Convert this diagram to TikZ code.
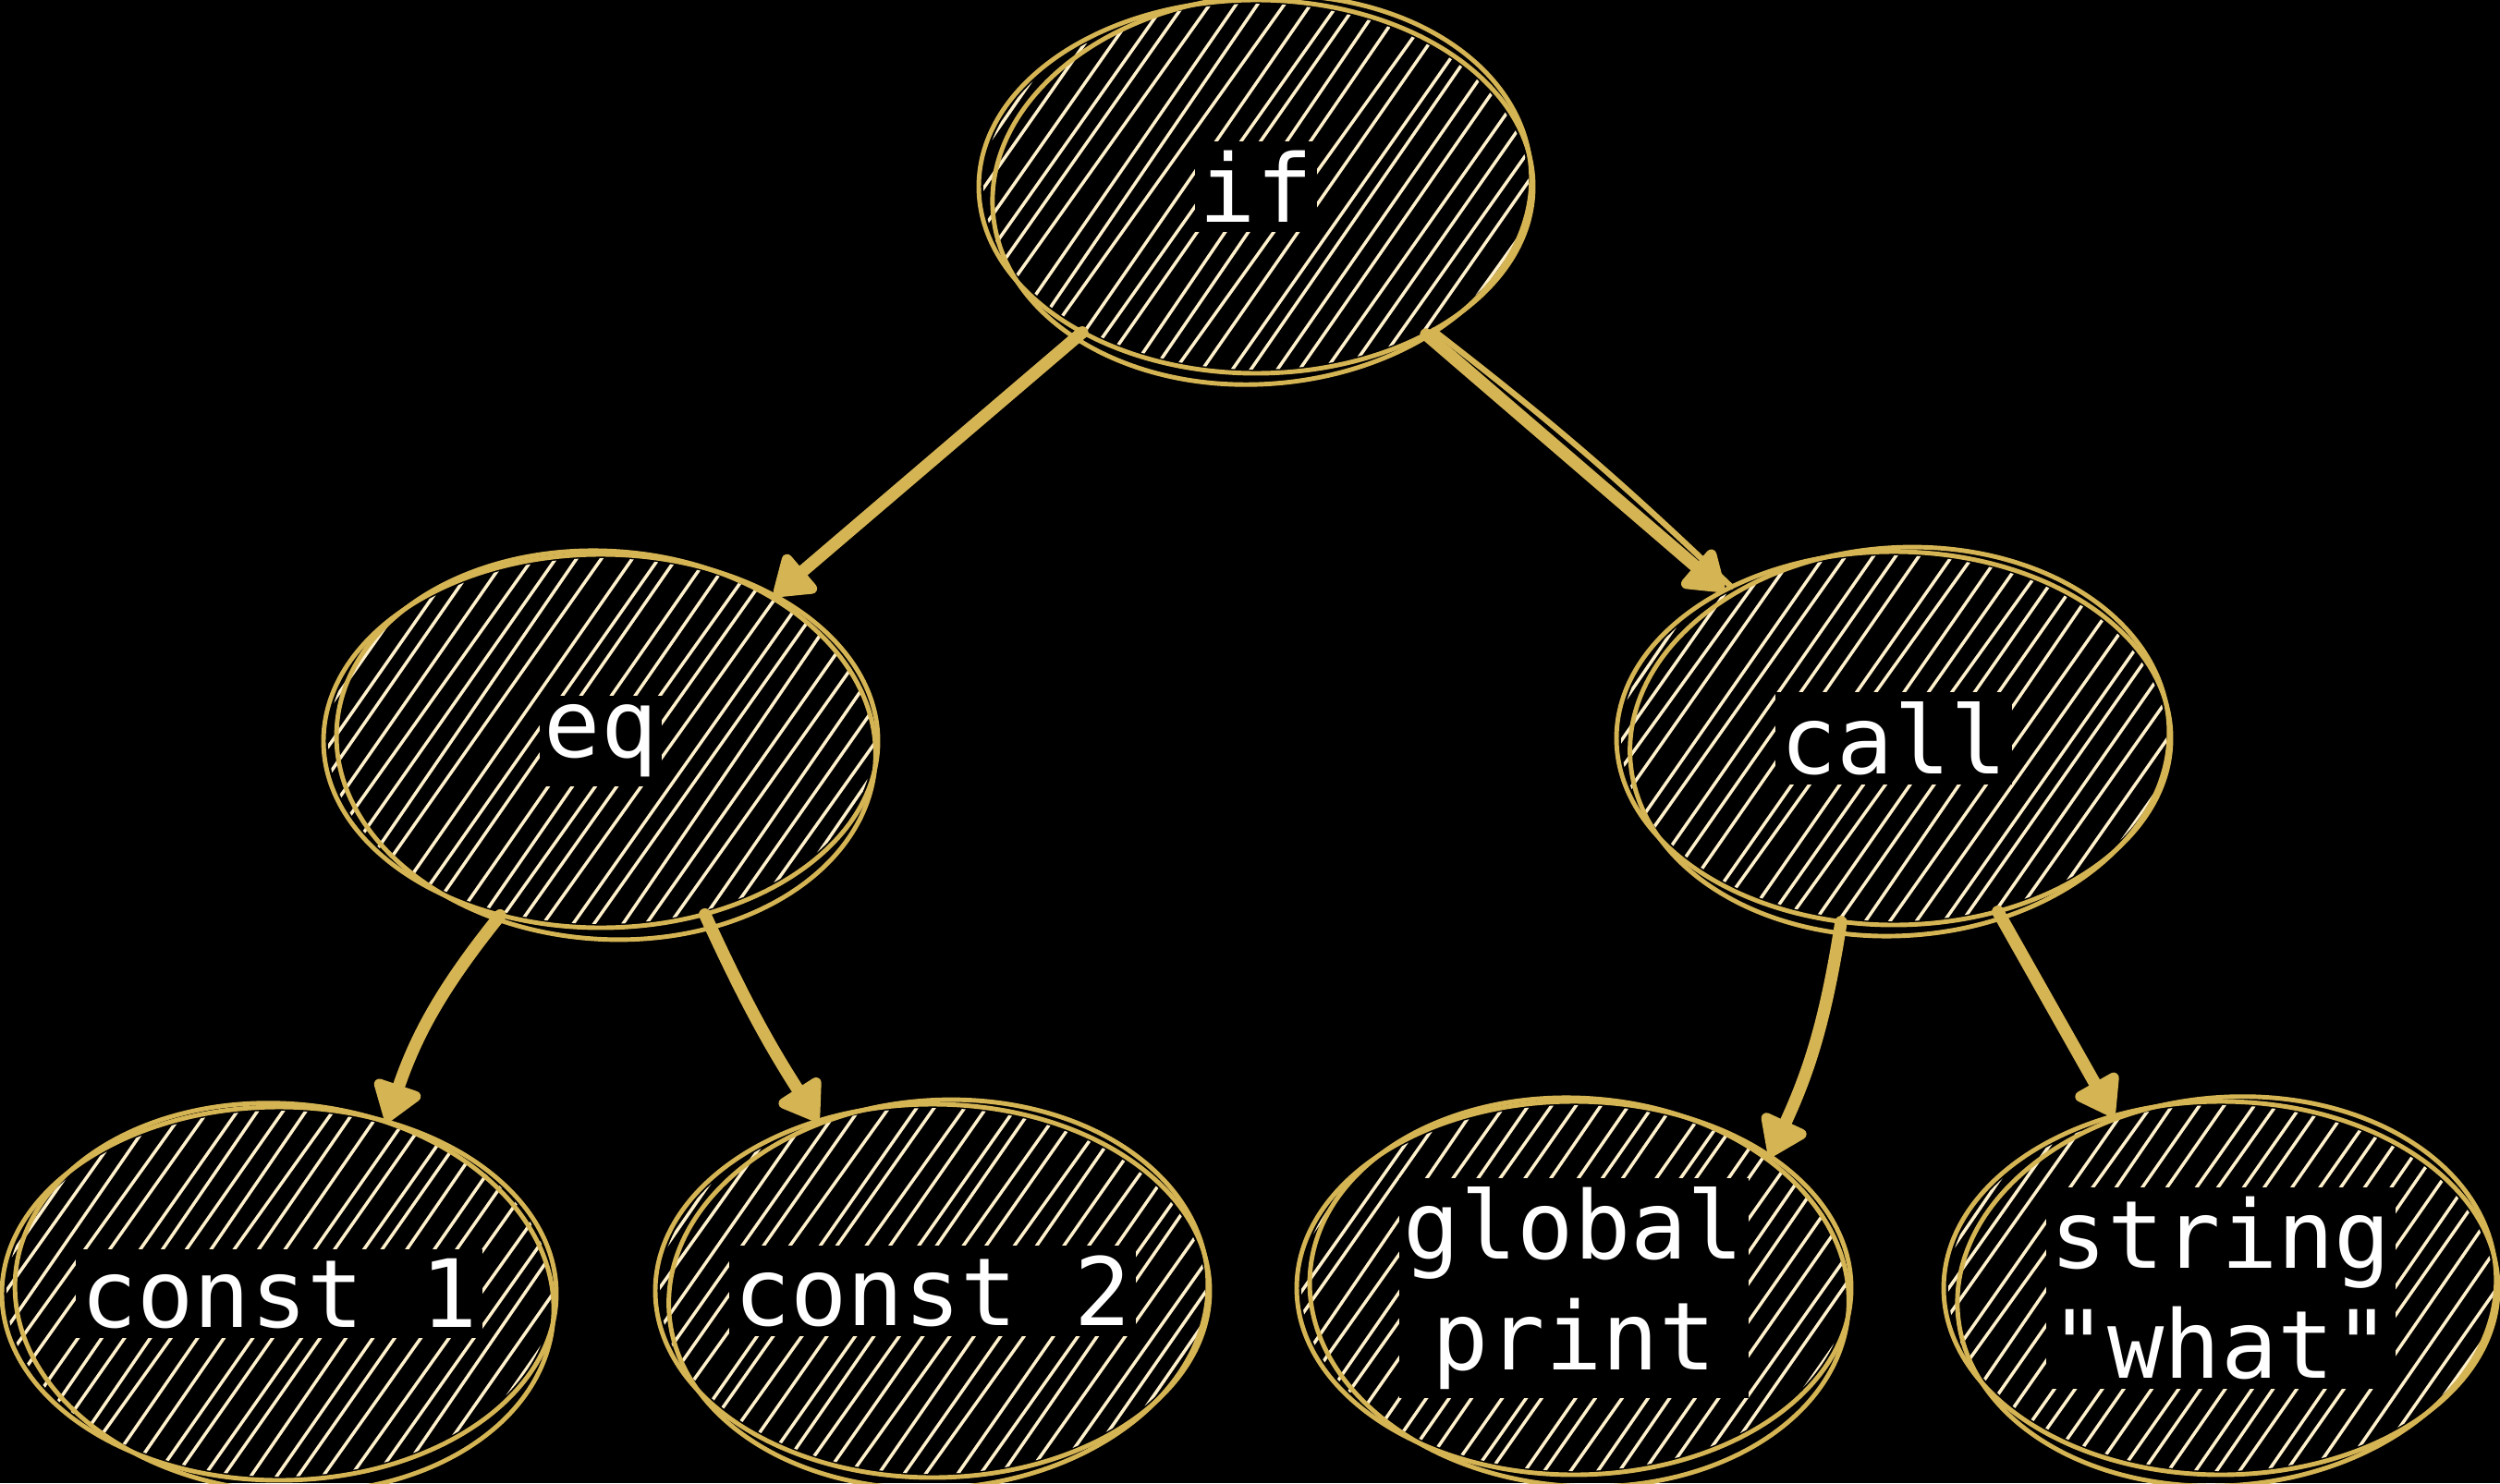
\documentclass[tikz,border=0pt]{standalone}
\usepackage{fontspec}
\setmonofont{DejaVu Sans Mono}
\usetikzlibrary{arrows.meta,shapes.geometric}
\definecolor{gold}{RGB}{213,180,84}
\definecolor{cream}{RGB}{255,241,204}

\begin{document}
\begin{tikzpicture}[
    blob/.style = {ellipse, minimum width=6cm, minimum height=4.05cm, inner sep=0pt, outer sep=0pt},
    tag/.style = {fill=black, text=white, font=\ttfamily\fontsize{29}{34}\selectfont, inner xsep=0.05cm, inner ysep=0.1cm, align=center},
    edge/.style = {draw=gold, line width=3.8pt, line cap=round, -{Triangle[length=0.46cm, width=0.6cm, round]}},
    rim/.style = {draw=gold, line width=1.4pt},
    hatch/.style = {draw=cream, line width=1pt, line cap=round}]

        \fill[black] (0,0) rectangle (27.05,-16.05);
        \useasboundingbox (0,0) rectangle (27.05,-16.05);
        \pgfmathsetseed{7}

        % sketched ellipses
        \foreach \n/\x/\y/\r in {if/13.59/-2.02/5, eq/6.50/-8.02/-4, call/20.49/-7.99/4,
                                 cone/3.02/-14.00/-5, ctwo/10.09/-13.97/4, gp/17.03/-13.94/-4, str/24.03/-13.94/5} {
            \node[blob] (\n) at (\x,\y) {};
            \begin{scope}
                \clip (\x,\y) ellipse (2.95 and 1.98);
                \foreach \k in {-16,...,16}
                    \draw[hatch, shift={(\x,\y)}, rotate=-35] ({\k*0.22+0.05*rand},-3.6) -- ({\k*0.22+0.05*rand},3.6);
            \end{scope}
            \draw[rim] (\x,\y) ellipse (3.0 and 2.02);
            \draw[rim, rotate around={\r:(\x,\y)}] (\x+0.06,\y-0.04) ellipse (2.92 and 2.1);
        }

        \node[tag] (if-t) at (if) {if};
        \node[tag] (eq-t) at (eq) {eq};
        \node[tag] (call-t) at (call) {call};
        \node[tag] (cone-t) at (cone) {const 1};
        \node[tag] (ctwo-t) at (ctwo) {const 2};
        \node[tag] (gp-t) at (gp) {global\\print};
        \node[tag] (str-t) at (str) {string\\"what"};

        \draw[edge] (if.220) -- (eq.40);
        \draw[edge] (if.319) -- (call.139);
        \draw[draw=gold, line width=1.8pt, line cap=round] (if.321) to[bend left=3] (call.137);
        \draw[edge] (eq.240) to[bend right=10] (cone.58);
        \draw[edge] (eq.301) to[bend right=4] (ctwo.124);
        \draw[edge] (call.254) to[bend left=8] (gp.34);
        \draw[edge] (call.301) -- (str.122);

    \end{tikzpicture}
\end{document}
